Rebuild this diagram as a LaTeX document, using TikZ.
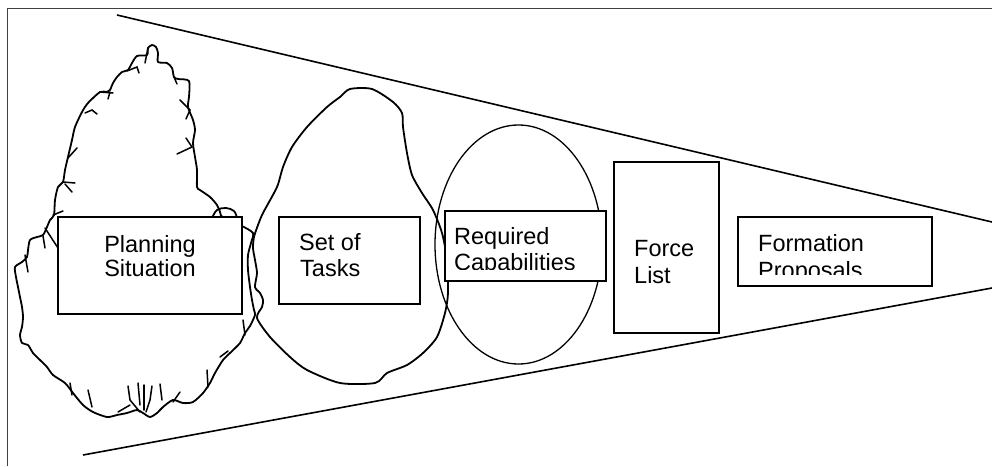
\documentclass[tikz,border=0pt]{standalone}
\usepackage{fontspec}
\setmainfont{Liberation Sans}
\usetikzlibrary{shapes.geometric}
\begin{document}
\begin{tikzpicture}[x=1pt,y=-1pt,
  framel/.style={draw=black!75,line width=1pt},
  funnel/.style={line width=1.6pt},
  blobline/.style={line width=1.8pt,line join=round,line cap=round},
  tickline/.style={line width=1.5pt,line cap=round},
  boxn/.style={draw,fill=white,line width=1.3pt,rectangle,inner sep=0pt},
  lbl/.style={inner sep=0pt,font=\fontsize{23.5}{27}\selectfont}]
\useasboundingbox (0,0) rectangle (992,466);
% frame
\coordinate (fa) at (7.5,466);
\coordinate (fb) at (7.5,8);
\coordinate (fc) at (992,8);
\draw[framel] (fa) -- (fb) -- (fc);
% funnel
\coordinate (t1) at (117,15);
\coordinate (t2) at (992,222);
\coordinate (b1) at (83,455);
\coordinate (b2) at (992,288);
\draw[funnel] (t1) -- (t2);
\draw[funnel] (b1) -- (b2);
% blob 1 (planning situation cloud)
\draw[blobline] plot[smooth,tension=0.45] coordinates {
(221,216) (220,212) (217,205) (210,197) (200,190) (197,187) (197,170) (195,157)
(193,143) (195,130) (193,120) (188,107) (189,97) (189,81) (178,79) (174,77)
(172,68) (167,63) (158,62) (158,53) (156,47) (152,45) (148,48) (147,55)
(137,56) (132,63) (128,70) (122,72) (117,77) (113,83) (110,90) (107,92)
(100,92) (88,103) (82,112) (75,127) (72,140) (68,157) (65,170) (63,182)
(58,187) (55,200) (54,215) (50,220) (47,227) (43,235) (37,237) (30,240)
(28,250) (27,257) (22,262) (15,267) (16,277) (18,287) (20,297) (22,307)
(23,317) (22,327) (20,335) (22,343) (28,345) (33,353) (40,360) (47,367)
(53,375) (65,383) (73,393) (83,405) (93,412) (107,417) (117,415) (127,413)
(137,410) (143,413) (150,417) (157,413) (163,407) (173,400) (183,403) (193,402)
(203,393) (210,383) (215,373) (223,360) (230,353) (240,343) (245,333) (250,326)
(255,315) (254,310) (252,300) (250,287) (248,270) (248,255) (251,243) (253,233)
(242,226) (232,221) (221,216)};
% small loop above box
\draw[blobline] plot[smooth,tension=0.6] coordinates {(212,218) (217,210) (226,208) (234,211) (237,218)};
% ticks on blob 1
\draw[tickline] (127,71) -- (137,67) -- (139,73);
\draw[tickline] (100,92) -- (113,93);
\draw[tickline] (108,99) -- (110,92);
\draw[tickline] (85,113) -- (92,110) -- (97,114);
\draw[tickline] (68,158) -- (77,148);
\draw[tickline] (63,182) -- (75,183);
\draw[tickline] (65,184) -- (72,192);
\draw[tickline] (53,215) -- (63,211);
\draw[tickline] (145,63) -- (148,48);
\draw[tickline] (174,77) -- (177,84);
\draw[tickline] (180,100) -- (190,110) -- (186,119);
\draw[tickline] (186,138) -- (192,147) -- (177,154);
\draw[tickline] (45,228) -- (58,248);
\draw[tickline] (25,255) -- (28,272);
\draw[tickline] (43,236) -- (45,248);
\draw[tickline] (70,383) -- (72,395);
\draw[tickline] (88,390) -- (92,407);
\draw[tickline] (128,386) -- (130,400) -- (140,412);
\draw[tickline] (138,383) -- (140,405);
\draw[tickline] (144,385) -- (144,410);
\draw[tickline] (152,386) -- (150,400) -- (146,412);
\draw[tickline] (160,384) -- (162,400);
\draw[tickline] (180,392) -- (173,402);
\draw[tickline] (118,412) -- (130,405);
\draw[tickline] (207,370) -- (208,387);
\draw[tickline] (220,357) -- (228,351);
\draw[tickline] (243,320) -- (245,335);
% blob 2 (set of tasks)
\draw[blobline] plot[smooth cycle,tension=0.45] coordinates {
(350,89) (372,89) (393,102) (402,113) (403,127) (407,153) (412,175) (422,193)
(433,210) (442,233) (447,260) (448,293) (445,313) (437,337) (423,353) (407,365)
(387,373) (375,383) (340,383) (307,370) (290,357) (270,337) (257,318) (262,307)
(263,300) (260,293) (255,287) (257,273) (255,260) (253,248) (254,237) (258,225)
(263,213) (277,187) (283,167) (292,147) (307,127) (327,107) (340,97)};
% ellipse
\node[draw,ellipse,line width=1.3pt,minimum width=167pt,minimum height=239pt,inner sep=0pt] (ell) at (518.5,244.5) {};
% boxes
\node[boxn,minimum width=184pt,minimum height=97pt] (ps) at (150,265.5) {};
\node[boxn,minimum width=141pt,minimum height=87pt] (st) at (349.5,260.5) {};
\node[boxn,minimum width=161pt,minimum height=70pt] (rc) at (525.5,246) {};
\node[boxn,minimum width=105pt,minimum height=171pt] (fl) at (666.5,247.5) {};
\node[boxn,minimum width=194pt,minimum height=69pt] (fp) at (835,251.5) {};
% labels
\node[lbl,anchor=base] (ps1) at (150,252.5) {Planning};
\node[lbl,anchor=base] (ps2) at (150,276.7) {Situation};
\node[lbl,anchor=base west] (st1) at (299,250) {Set of};
\node[lbl,anchor=base west] (st2) at (300,276.7) {Tasks};
\node[lbl,anchor=base west] (rc1) at (454,244) {Required};
\begin{scope}
\clip (440,250) rectangle (610,269.5);
\node[lbl,anchor=base west] (rc2) at (454,270.5) {Capabilities};
\end{scope}
\node[lbl,anchor=base west] (fl1) at (634,256) {Force};
\node[lbl,anchor=base west] (fl2) at (634,283) {List};
\node[lbl,anchor=base west] (fp1) at (758,251) {Formation};
\begin{scope}
\clip (740,255) rectangle (930,274);
\node[lbl,anchor=base west] (fp2) at (758,278) {Proposals};
\end{scope}
\end{tikzpicture}
\end{document}
